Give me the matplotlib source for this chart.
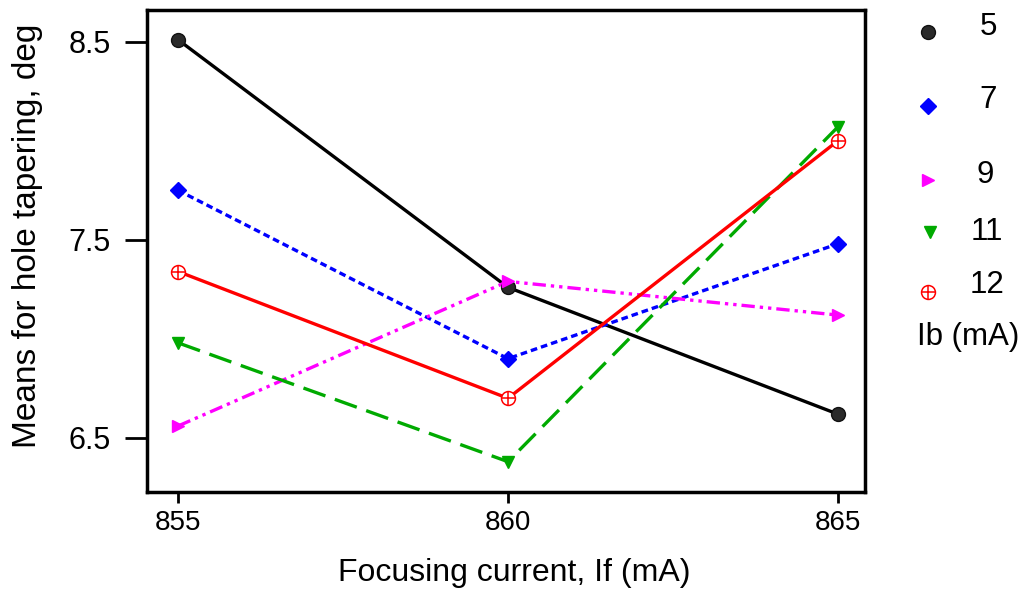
import matplotlib
matplotlib.use("Agg")
import matplotlib.pyplot as plt
from matplotlib.lines import Line2D

plt.rcParams['font.family'] = ['Liberation Sans', 'DejaVu Sans']

focus = [855, 860, 865]
ib_labels = ['5', '7', '9', '11', '12']
y5 = [8.51, 7.26, 6.62]
y7 = [7.75, 6.90, 7.48]
y9 = [6.56, 7.29, 7.12]
y11 = [6.98, 6.38, 8.07]
y12 = [7.34, 6.70, 8.00]

series = [y5, y7, y9, y11, y12]
colors = ['black', '#0000ff', '#ff00ff', '#00aa00', '#ff0000']
styles = ['-', (0, (2.0, 1.2)), (0, (4, 1.5, 1, 1.5, 1, 1.5)), (0, (7, 3)), '-']
markers = ['o', 'D', '>', 'v', 'o']


def draw_marker(add, x, y, c, m):
    if m == 'o' and c != 'black':
        add(Line2D(x, y, ls='none', marker='o', ms=10, mfc='white', mec=c, mew=1.1, zorder=4))
        add(Line2D(x, y, ls='none', marker='+', ms=10, mec=c, mew=1.1, zorder=5))
    elif m == 'o':
        add(Line2D(x, y, ls='none', marker='o', ms=10, mfc='#2a2a2a', mec='#111111', zorder=4))
    elif m == 'D':
        add(Line2D(x, y, ls='none', marker='D', ms=8.5, mfc=c, mec=c, zorder=4))
    else:
        add(Line2D(x, y, ls='none', marker=m, ms=9, mfc=c, mec=c, zorder=4))


fig = plt.figure(figsize=(10.25, 5.94), dpi=100)
ax = fig.add_axes([147/1025, 1-492/594, (865-147)/1025, (492-10)/594])

for ys, c, ls, m in zip(series, colors, styles, markers):
    ax.plot(focus, ys, color=c, ls=ls, lw=2.4, zorder=3)
    draw_marker(ax.add_line, focus, ys, c, m)

ax.set_xlim(854.53, 865.41)
ax.set_ylim(6.227, 8.66)
ax.set_xticks(focus)
ax.set_xticklabels([str(v) for v in focus], fontsize=20)
ax.set_yticks([6.5, 7.5, 8.5])
ax.set_yticklabels(['6.5', '7.5', '8.5'], fontsize=22)
for s in ax.spines.values():
    s.set_linewidth(2.5)
ax.tick_params(axis='x', direction='out', length=8, width=2, pad=5)
ax.tick_params(axis='y', direction='out', length=16, width=2, pad=10)

fig.text(514/1025, 1-573/594, 'Focusing current, If (mA)', fontsize=23,
         ha='center', va='center')
fig.text(28/1025, 1-236/594, 'Means for hole tapering, deg', fontsize=24,
         rotation=90, ha='center', va='center')

# legend drawn manually
mk_pos = [(928, 32), (928, 106), (928, 180), (930, 232), (928, 292)]
lab_pos = [(988, 27), (988, 100), (985, 175), (987, 232), (987, 285)]
for lab, c, m, (mx, my), (lx, ly) in zip(ib_labels, colors, markers, mk_pos, lab_pos):
    draw_marker(fig.add_artist, [mx/1025], [1 - my/594], c, m)
    fig.text(lx/1025, 1 - ly/594, lab, fontsize=22.5, ha='center', va='center')
fig.text(968/1025, 1 - 337/594, 'Ib (mA)', fontsize=22.5, ha='center', va='center')

fig.savefig('out.png', dpi=100)
